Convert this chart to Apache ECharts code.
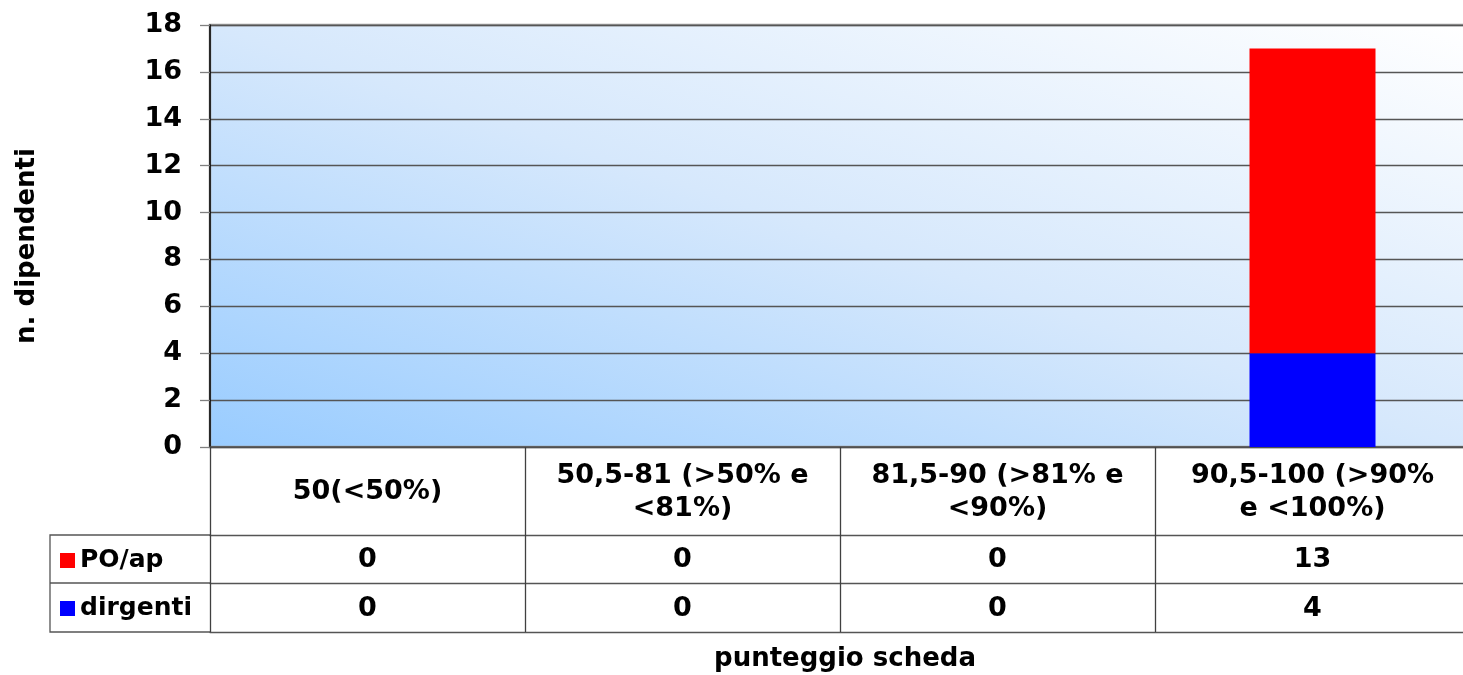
<!DOCTYPE html>
<html>
<head>
<meta charset="utf-8">
<script src="https://cdn.jsdelivr.net/npm/echarts@6/dist/echarts.min.js"></script>
<style>
html,body{margin:0;padding:0;background:#fff;}
#chart{width:1463px;height:675px;}
</style>
</head>
<body>
<div id="chart"></div>
<script>
var categories = ['50(<50%)', '50,5-81 (>50% e\n<81%)', '81,5-90 (>81% e\n<90%)', '90,5-100 (>90%\ne <100%)'];
var poap = [0, 0, 0, 13];
var dirgenti = [0, 0, 0, 4];
var yTicks = {min: 0, max: 18, interval: 2};
var seriesNames = ['PO/ap', 'dirgenti'];
var axisTitleY = 'n. dipendenti';
var axisTitleX = 'punteggio scheda';

var FONT = 'DejaVu Sans';
function tx(size) { return {fontFamily: FONT, fontWeight: 'bold', fontSize: size, color: '#000'}; }

var chart = echarts.init(document.getElementById('chart'), null, {renderer: 'canvas'});

var option = {
  animation: false,
  textStyle: {fontFamily: FONT},
  grid: {
    left: 210, right: -7, top: 25, bottom: 228,
    containLabel: false,
    outerBoundsMode: 'none',
    show: true,
    borderColor: '#9a9a9a',
    borderWidth: 2.5,
    backgroundColor: new echarts.graphic.LinearGradient(210, 447, 465, -311, [
      {offset: 0, color: '#99ccff'},
      {offset: 0.5, color: '#d6e8fc'},
      {offset: 1, color: '#ffffff'}
    ], true)
  },
  legend: [
    {
      data: [seriesNames[0]], left: 60, top: 548, icon: 'rect',
      itemWidth: 15, itemHeight: 15, itemGap: 6, padding: 0,
      textStyle: tx(25), selectedMode: false
    },
    {
      data: [seriesNames[1]], left: 60, top: 596, icon: 'rect',
      itemWidth: 15, itemHeight: 15, itemGap: 6, padding: 0,
      textStyle: tx(25), selectedMode: false
    }
  ],
  xAxis: [
    {
      type: 'category', data: categories, position: 'bottom',
      axisLine: {show: true, lineStyle: {color: '#505050', width: 1.5}},
      axisTick: {show: true, length: 185, interval: 0, lineStyle: {color: '#404040', width: 1.3}},
      axisLabel: Object.assign(tx(27), {interval: 0, margin: 45, verticalAlign: 'middle', lineHeight: 33, align: 'center'}),
      splitLine: {show: false}
    },
    {
      type: 'category', data: categories, position: 'bottom', offset: 88,
      axisLine: {show: true, lineStyle: {color: '#555', width: 1.3}},
      axisTick: {show: false},
      axisLabel: Object.assign(tx(27), {interval: 0, margin: 25, verticalAlign: 'middle',
        formatter: function (v, i) { return String(poap[i]); }}),
      splitLine: {show: false}
    },
    {
      type: 'category', data: categories, position: 'bottom', offset: 136,
      axisLine: {show: true, lineStyle: {color: '#555', width: 1.3}},
      axisTick: {show: false},
      axisLabel: Object.assign(tx(27), {interval: 0, margin: 26, verticalAlign: 'middle',
        formatter: function (v, i) { return String(dirgenti[i]); }}),
      splitLine: {show: false}
    },
    {
      type: 'category', data: categories, position: 'bottom', offset: 185,
      axisLine: {show: true, lineStyle: {color: '#555', width: 1.3}},
      axisTick: {show: false},
      axisLabel: {show: false},
      splitLine: {show: false},
      name: axisTitleX, nameLocation: 'middle', nameGap: 14,
      nameTextStyle: Object.assign(tx(26), {padding: [0, 0, 0, 10]})
    }
  ],
  yAxis: {
    type: 'value', min: yTicks.min, max: yTicks.max, interval: yTicks.interval,
    axisLine: {show: true, lineStyle: {color: '#000', width: 1.5}},
    axisTick: {show: true, length: 10, lineStyle: {color: '#808080', width: 1.3}},
    axisLabel: Object.assign(tx(27), {margin: 28}),
    splitLine: {show: true, lineStyle: {color: '#555', width: 1.3}},
    name: axisTitleY, nameLocation: 'middle', nameGap: 170, nameRotate: 90,
    nameTextStyle: Object.assign(tx(26), {padding: [0, 20, 0, 0]})
  },
  series: [
    {
      name: seriesNames[1], type: 'bar', stack: 'tot', data: dirgenti,
      barWidth: '40%', itemStyle: {color: '#0000ff'}
    },
    {
      name: seriesNames[0], type: 'bar', stack: 'tot', data: poap,
      barWidth: '40%', itemStyle: {color: '#ff0000'}
    }
  ],
  graphic: [
    {
      type: 'polyline', silent: true,
      shape: {points: [[210, 535], [50, 535], [50, 632], [210, 632]]},
      style: {stroke: '#555', lineWidth: 1.3, fill: null}
    },
    {
      type: 'line', silent: true,
      shape: {x1: 50, y1: 583, x2: 210, y2: 583},
      style: {stroke: '#555', lineWidth: 1.3}
    }
  ]
};
chart.setOption(option);
</script>
</body>
</html>
